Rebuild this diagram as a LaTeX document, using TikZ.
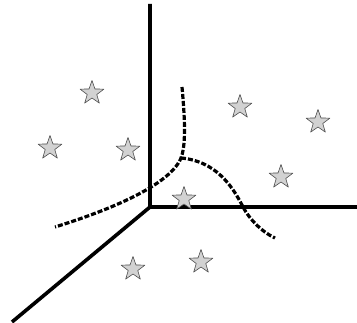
\documentclass[tikz,border=0pt]{standalone}
\usetikzlibrary{shapes.geometric}
\tikzset{
  axis/.style={line width=3.6pt},
  border/.style={line width=3.2pt,dash pattern=on 5pt off 2pt},
  sample/.style={star,star points=5,star point ratio=2.5,minimum size=25pt,inner sep=0pt,
    fill=gray!35,draw=gray!60!black,line width=0.6pt}
}
\begin{document}
\begin{tikzpicture}[x=1pt,y=-1pt,line join=round]
\useasboundingbox (0,0) rectangle (357,323);
\path
(150,207) coordinate (O)
(150,4) coordinate (T)
(357,207) coordinate (R)
(12,322) coordinate (L)
(182,87) coordinate (P1)
(181,158) coordinate (P2)
(55,227) coordinate (P3)
(243,207) coordinate (P4)
(275,238) coordinate (P5)
;
\draw[axis] (T)--(O)--(R) (O)--(L);
\draw[border] (P1) .. controls (185,120) and (186,145) .. (P2) .. controls (170,185) and (110,210) .. (P3);
\draw[border] (P2) .. controls (215,161) and (232,185) .. (P4) .. controls (250,220) and (262,232) .. (P5);
\foreach \n/\x/\y in {a/92/93,b/50/148,c/128/150,d/184/199,e/240/107,f/318/122,g/281/177,h/133/269,i/201/262}
  \node[sample] (s\n) at (\x,\y) {};
\end{tikzpicture}
\end{document}
